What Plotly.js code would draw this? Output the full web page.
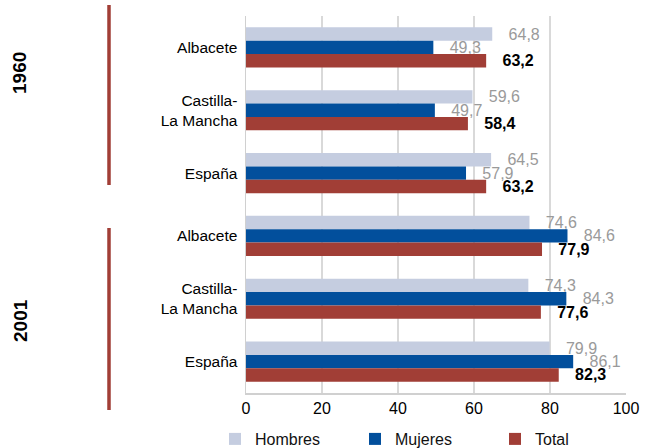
<!DOCTYPE html>
<html>
<head>
<meta charset="utf-8">
<script src="https://cdn.plot.ly/plotly-3.0.1.min.js"></script>
<style>
html,body{margin:0;padding:0;background:#fff;}
#chart{width:654px;height:448px;}
</style>
</head>
<body>
<div id="chart"></div>
<script>
// Data
const categories = ['Albacete', 'Castilla-<br>La Mancha', 'España', 'Albacete', 'Castilla-<br>La Mancha', 'España'];
const years = ['1960', '2001'];
const hombres = [64.8, 59.6, 64.5, 74.6, 74.3, 79.9];
const mujeres = [49.3, 49.7, 57.9, 84.6, 84.3, 86.1];
const total = [63.2, 58.4, 63.2, 77.9, 77.6, 82.3];
const xTicks = [0, 20, 40, 60, 80, 100];

const positions = categories.map((c, i) => i);
const NB = '\u00a0\u00a0\u00a0';
const fmt = v => NB + v.toFixed(1).replace('.', ',');
const FONT = 'Liberation Sans, Arial, sans-serif';

function barTrace(name, values, color, textColor, bold) {
  return {
    type: 'bar', orientation: 'h', name: name,
    y: positions, x: values,
    marker: {color: color},
    text: values.map(fmt),
    textposition: 'outside',
    textangle: 0,
    constraintext: 'none',
    cliponaxis: false,
    textfont: {family: FONT, size: 16, color: textColor, weight: bold ? 'bold' : 'normal'},
    hoverinfo: 'x+name'
  };
}

const data = [
  barTrace('Hombres', hombres, '#c5cde0', '#9a9a9a', false),
  barTrace('Mujeres', mujeres, '#024f9c', '#9a9a9a', false),
  barTrace('Total', total, '#a13e36', '#000000', true)
];

const L = 246, R = 626, T = 16, B = 393;
const pw = R - L, ph = B - T;
const px2x = p => (p - L) / pw;
const px2y = p => (B - p) / ph;

const layout = {
  width: 654, height: 448,
  margin: {l: L, r: 654 - R, t: T, b: 448 - B, pad: 0, autoexpand: false},
  paper_bgcolor: '#ffffff', plot_bgcolor: '#ffffff',
  font: {family: FONT, size: 16, color: '#000'},
  barmode: 'group',
  bargap: 0.36, bargroupgap: 0,
  showlegend: true,
  legend: {
    orientation: 'h', x: px2x(215), xanchor: 'left', y: px2y(422), yanchor: 'top',
    font: {family: FONT, size: 16, color: '#111'},
    entrywidth: 95, traceorder: 'normal', bgcolor: 'rgba(0,0,0,0)'
  },
  xaxis: {
    range: [0, 100], tickvals: xTicks, ticktext: xTicks.map(String),
    showgrid: true, gridcolor: '#d9d9d9', gridwidth: 1.5,
    showline: true, linecolor: '#d0d0d0', linewidth: 1.5,
    zeroline: false, ticks: '', fixedrange: true,
    tickfont: {family: FONT, size: 16, color: '#000'}
  },
  yaxis: {
    range: [5.5, -0.5], tickvals: positions, ticktext: categories,
    showgrid: false, showline: true, linecolor: '#d0d0d0', linewidth: 1.5,
    zeroline: false, ticks: '', ticklabelstandoff: 4, fixedrange: true,
    tickfont: {family: FONT, size: 15.5, color: '#000'}
  },
  shapes: [
    {type: 'line', xref: 'paper', yref: 'paper', x0: px2x(109), x1: px2x(109), y0: px2y(5), y1: px2y(185), line: {color: '#a13e36', width: 3.5}},
    {type: 'line', xref: 'paper', yref: 'paper', x0: px2x(109), x1: px2x(109), y0: px2y(228), y1: px2y(410), line: {color: '#a13e36', width: 3.5}}
  ],
  annotations: [
    {text: years[0], xref: 'paper', yref: 'paper', x: px2x(20), y: px2y(73), xanchor: 'center', yanchor: 'middle', textangle: -90, showarrow: false, font: {family: FONT, size: 19, color: '#000', weight: 'bold'}},
    {text: years[1], xref: 'paper', yref: 'paper', x: px2x(20), y: px2y(321), xanchor: 'center', yanchor: 'middle', textangle: -90, showarrow: false, font: {family: FONT, size: 19, color: '#000', weight: 'bold'}}
  ]
};

Plotly.newPlot('chart', data, layout, {displayModeBar: false, staticPlot: true});
</script>
</body>
</html>
